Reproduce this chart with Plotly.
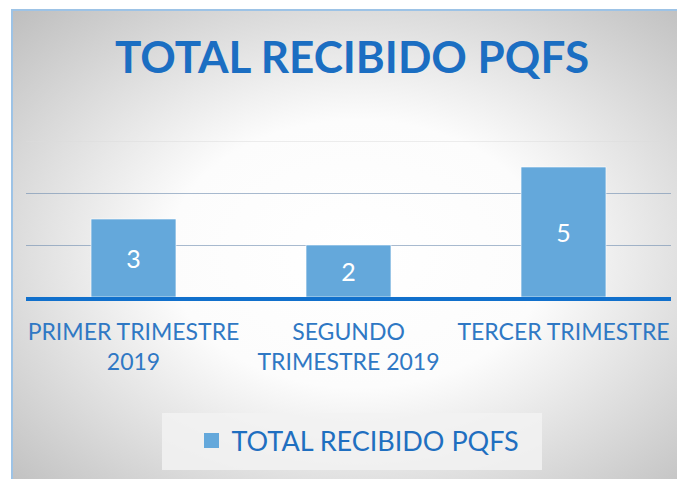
import base64
import plotly.graph_objects as go

categories = ["PRIMER TRIMESTRE<br>2019", "SEGUNDO<br>TRIMESTRE 2019", "TERCER TRIMESTRE"]
values = [3, 2, 5]
series_name = "TOTAL RECIBIDO PQFS"
title_text = "TOTAL RECIBIDO PQFS"

W, H = 677, 479
L, R, T, B = 26, 6, 141, 182
pw, ph = W - L - R, H - T - B

def px(x):
    return (x - L) / pw

def py(y):
    return (H - B - y) / ph

svg = ("<svg xmlns='http://www.w3.org/2000/svg' width='665' height='469' viewBox='0 0 665 469' preserveAspectRatio='none'>"
       "<defs><radialGradient id='g' cx='0.52' cy='0.52' r='0.75'>"
       "<stop offset='0' stop-color='#ffffff'/><stop offset='0.38' stop-color='#fcfcfc'/>"
       "<stop offset='1' stop-color='#bcbcbc'/></radialGradient></defs>"
       "<rect width='665' height='469' fill='url(#g)'/></svg>")
src = "data:image/svg+xml;base64," + base64.b64encode(svg.encode()).decode()

FONT = "Lato, sans-serif"
BAR_COLOR = "#64a8db"

fig = go.Figure()
fig.add_trace(go.Bar(
    x=categories, y=values, name=series_name,
    marker=dict(color=BAR_COLOR, line=dict(color="rgba(255,255,255,0.6)", width=1)),
    text=[str(v) for v in values], textposition="inside", insidetextanchor="middle",
    textfont=dict(color="white", size=25, family=FONT),
    showlegend=False,
))
# legend entry with a larger square swatch
fig.add_trace(go.Scatter(
    x=[None], y=[None], mode="markers", name=series_name,
    marker=dict(symbol="square", size=15, color=BAR_COLOR, line=dict(width=0)),
    showlegend=True,
))

fig.update_layout(
    width=W, height=H,
    margin=dict(l=L, r=R, t=T, b=B, autoexpand=False),
    paper_bgcolor="white", plot_bgcolor="rgba(0,0,0,0)",
    bargap=0.605,
    title=dict(text=title_text, x=352 / W, xanchor="center", y=1 - 58 / H, yanchor="middle",
               xref="container", yref="container",
               font=dict(family=FONT, size=44, color="#1b6ec2", weight="bold")),
    xaxis=dict(showline=True, linecolor="#1170cc", linewidth=4, ticks="", tickangle=0,
               automargin=False,
               tickfont=dict(family=FONT, size=23, color="#2f78c4"), showgrid=False,
               ticklabelstandoff=11),
    yaxis=dict(range=[0, 6], tickvals=[2, 4], showticklabels=False, showgrid=True, automargin=False,
               gridcolor="rgba(110,140,175,0.6)", gridwidth=1, zeroline=False),
    legend=dict(x=358 / W, y=1 - 441 / H, xref="container", yref="container",
                xanchor="center", yanchor="middle", itemwidth=30,
                bgcolor="rgba(0,0,0,0)", font=dict(family=FONT, size=27, color="#1f6fc0")),
    images=[dict(source=src, xref="paper", yref="paper", x=px(12), y=py(10),
                 sizex=(W - 12) / pw, sizey=(H - 10) / ph, sizing="stretch", layer="below",
                 xanchor="left", yanchor="top")],
    shapes=[
        dict(type="rect", xref="paper", yref="paper", x0=px(162), x1=px(542), y0=py(470), y1=py(413),
             fillcolor="rgba(242,242,242,0.85)", line=dict(width=0), layer="below"),
        dict(type="line", xref="paper", yref="y", x0=0, x1=1, y0=6, y1=6,
             line=dict(color="#dcdcdc", width=1), layer="below"),
        dict(type="rect", xref="paper", yref="paper", x0=px(12), x1=px(W + 5), y0=py(H + 5), y1=py(10),
             line=dict(color="#9dc3e6", width=2), fillcolor="rgba(0,0,0,0)", layer="above"),
    ],
)

fig.write_html("out.html", config={"displayModeBar": False},
               post_script="document.body.style.margin='0';")
